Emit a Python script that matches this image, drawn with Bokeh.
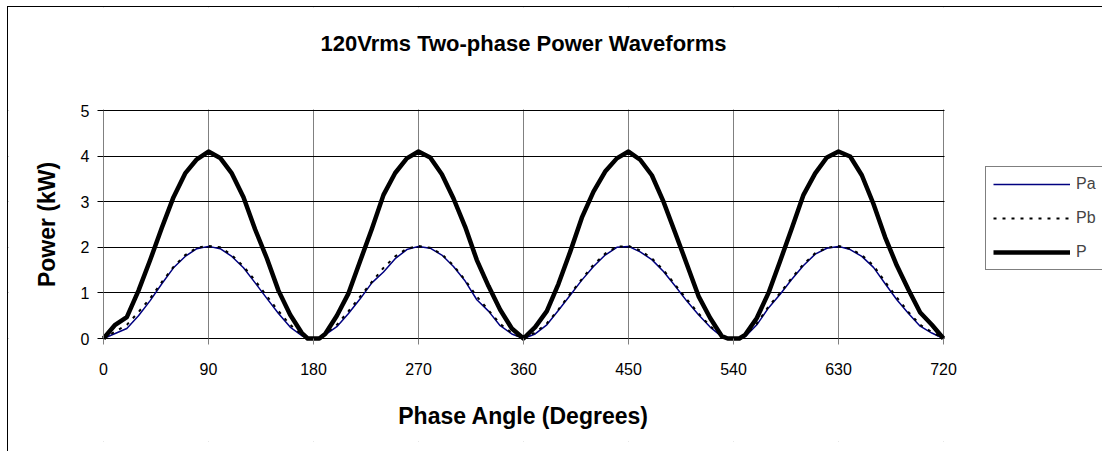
import math
from bokeh.plotting import figure
from bokeh.models import (Range1d, FixedTicker, Legend, LegendItem, ColumnDataSource,
                          Label, BoxAnnotation)
from bokeh.embed import file_html
from bokeh.resources import INLINE

# ---- data ----
angle = [0, 10, 20, 30, 40, 50, 60, 70, 80, 90,
         100, 110, 120, 130, 140, 150, 160, 170, 175, 180, 185,
         190, 200, 210, 220, 230, 240, 250, 260, 270,
         280, 290, 300, 310, 320, 330, 340, 350, 360,
         370, 380, 390, 400, 410, 420, 430, 440, 450,
         460, 470, 480, 490, 500, 510, 520, 530, 535, 540, 545,
         550, 560, 570, 580, 590, 600, 610, 620, 630,
         640, 650, 660, 670, 680, 690, 700, 710, 720]

pa = [0, 0.11, 0.22, 0.50, 0.83, 1.20, 1.55, 1.80, 1.97, 2.02,
      1.97, 1.80, 1.55, 1.22, 0.88, 0.55, 0.25, 0.06, 0.02, 0, 0.02,
      0.08, 0.26, 0.55, 0.87, 1.22, 1.46, 1.75, 1.95, 2.02,
      1.98, 1.83, 1.58, 1.26, 0.85, 0.60, 0.28, 0.10, 0,
      0.10, 0.30, 0.62, 0.95, 1.28, 1.58, 1.83, 2.00, 2.02,
      1.90, 1.73, 1.47, 1.15, 0.82, 0.52, 0.25, 0.04, 0.01, 0, 0.01,
      0.04, 0.30, 0.67, 0.97, 1.30, 1.60, 1.85, 1.98, 2.02,
      1.95, 1.80, 1.56, 1.20, 0.85, 0.55, 0.27, 0.12, 0]

pb = [0, 0.15, 0.30, 0.58, 0.88, 1.24, 1.57, 1.83, 1.99, 2.03,
      2.00, 1.83, 1.58, 1.27, 0.93, 0.60, 0.30, 0.08, 0.02, 0, 0.03,
      0.10, 0.30, 0.60, 0.92, 1.24, 1.55, 1.80, 1.97, 2.03,
      1.99, 1.85, 1.60, 1.28, 0.92, 0.62, 0.32, 0.12, 0,
      0.13, 0.33, 0.64, 0.98, 1.30, 1.62, 1.86, 2.01, 2.03,
      1.93, 1.76, 1.50, 1.18, 0.86, 0.55, 0.27, 0.06, 0.01, 0, 0.02,
      0.06, 0.33, 0.70, 1.00, 1.33, 1.63, 1.87, 1.99, 2.03,
      1.97, 1.83, 1.60, 1.24, 0.90, 0.58, 0.30, 0.14, 0]

p_total = [0, 0.30, 0.47, 1.05, 1.72, 2.43, 3.10, 3.62, 3.93, 4.10,
           3.96, 3.62, 3.10, 2.39, 1.76, 1.05, 0.52, 0.12, 0, 0, 0,
           0.10, 0.50, 0.99, 1.70, 2.40, 3.15, 3.63, 3.95, 4.10,
           3.97, 3.60, 3.07, 2.45, 1.72, 1.15, 0.63, 0.22, 0,
           0.25, 0.60, 1.20, 1.90, 2.65, 3.22, 3.66, 3.95, 4.10,
           3.92, 3.58, 3.00, 2.32, 1.63, 0.93, 0.45, 0.05, 0, 0, 0,
           0.08, 0.45, 1.00, 1.70, 2.42, 3.15, 3.62, 3.97, 4.10,
           3.99, 3.58, 2.95, 2.22, 1.60, 1.07, 0.57, 0.30, 0]

x_ticks = [0, 90, 180, 270, 360, 450, 540, 630, 720]
y_ticks = [0, 1, 2, 3, 4, 5]
series_names = ["Pa", "Pb", "P"]

title_text = "120Vrms Two-phase Power Waveforms"
x_label = "Phase Angle (Degrees)"
y_label = "Power (kW)"

FONT = "Liberation Sans"

# ---- layout constants (pixels) ----
W, H = 1095, 445
B_LEFT, B_RIGHT, B_TOP, B_BOTTOM = 0, 1, 0, 11
PLOT_W, PLOT_H = 840, 228          # size of the gridded plot area
ZERO_FROM_TOP = 331                # x axis, px below the frame top
ZERO_FROM_LEFT = 95                # y axis, px right of the frame left
FRAME_W = W - B_LEFT - B_RIGHT
FRAME_H = H - B_TOP - B_BOTTOM
X_MAX, Y_MAX = x_ticks[-1], y_ticks[-1]
x_per_px = X_MAX / PLOT_W
y_per_px = Y_MAX / PLOT_H
TITLE_ABOVE_AXIS = 295             # title centre, px above the x axis
XLABEL_BELOW_AXIS = 77             # x-axis title centre, px below the x axis
YLABEL_LEFT_OF_AXIS = 57           # y-axis title centre, px left of the y axis
LEGEND_X, LEGEND_BOTTOM = 977, 171 # legend left / bottom edge within the frame

src = ColumnDataSource(dict(angle=angle, pa=pa, pb=pb, p=p_total))

p = figure(width=W, height=H, output_backend="svg", toolbar_location=None,
           x_range=Range1d(-ZERO_FROM_LEFT * x_per_px, (FRAME_W - ZERO_FROM_LEFT) * x_per_px),
           y_range=Range1d(-(FRAME_H - ZERO_FROM_TOP) * y_per_px, ZERO_FROM_TOP * y_per_px),
           min_border_left=B_LEFT, min_border_right=B_RIGHT, min_border_top=B_TOP,
           min_border_bottom=B_BOTTOM)
p.styles = {"border-left": "1px solid black", "border-top": "1px solid black",
            "margin-left": "7px", "margin-top": "6px"}
p.background_fill_color = "white"
p.border_fill_color = "white"
p.outline_line_color = None

# axes (drawn inside the frame, at the data origin)
p.xaxis.ticker = FixedTicker(ticks=x_ticks)
p.yaxis.ticker = FixedTicker(ticks=y_ticks)
p.xaxis.bounds = (0, X_MAX)
p.yaxis.bounds = (0, Y_MAX)
p.xaxis.fixed_location = 0
p.yaxis.fixed_location = 0
for ax in (p.xaxis, p.yaxis):
    ax.major_label_text_font = FONT
    ax.major_label_text_font_size = "16px"
    ax.major_label_text_color = "black"
    ax.major_tick_in = 0
    ax.major_tick_out = 6
    ax.minor_tick_in = 0
    ax.minor_tick_out = 0
p.xaxis.axis_line_color = "black"
p.xaxis.major_tick_line_color = "#808080"
p.yaxis.axis_line_color = "#808080"
p.yaxis.major_tick_line_color = "black"
p.xaxis.major_label_standoff = 18
p.yaxis.major_label_standoff = 8

p.xgrid.grid_line_color = "#808080"
p.xgrid.grid_line_width = 1
p.ygrid.grid_line_color = "black"
p.ygrid.grid_line_width = 1

# white masks so the grid stays inside the plot area
mask = dict(fill_color="white", fill_alpha=1, line_alpha=0, level="underlay")
p.add_layout(BoxAnnotation(left=X_MAX + 1.0 * x_per_px, **mask))
p.add_layout(BoxAnnotation(right=-1.0 * x_per_px, **mask))
p.add_layout(BoxAnnotation(bottom=Y_MAX + 1.0 * y_per_px, **mask))
p.add_layout(BoxAnnotation(top=-1.0 * y_per_px, **mask))

r_pa = p.line("angle", "pa", source=src, line_color="#000080", line_width=1.5)
r_pb = p.line("angle", "pb", source=src, line_color="black", line_width=2,
              line_dash="3 6")
r_p = p.line("angle", "p", source=src, line_color="black", line_width=4.5,
             line_join="round")

label_style = dict(text_align="center", text_baseline="middle", text_font=FONT,
                   text_font_style="bold", text_color="black")
p.add_layout(Label(x=X_MAX / 2, y=TITLE_ABOVE_AXIS * y_per_px, text=title_text,
                   text_font_size="22px", **label_style))
p.add_layout(Label(x=X_MAX / 2, y=-XLABEL_BELOW_AXIS * y_per_px, text=x_label,
                   text_font_size="23px", **label_style))
p.add_layout(Label(x=-YLABEL_LEFT_OF_AXIS * x_per_px, y=Y_MAX / 2, text=y_label,
                   angle=math.pi / 2, text_font_size="23px", **label_style))

legend = Legend(items=[LegendItem(label=series_names[0], renderers=[r_pa]),
                       LegendItem(label=series_names[1], renderers=[r_pb]),
                       LegendItem(label=series_names[2], renderers=[r_p])],
                location=(LEGEND_X, LEGEND_BOTTOM), orientation="vertical")
legend.border_line_color = "black"
legend.border_line_width = 1
legend.background_fill_color = "white"
legend.background_fill_alpha = 1
legend.padding = 7
legend.spacing = 14
legend.margin = 0
legend.glyph_width = 77
legend.glyph_height = 20
legend.label_standoff = 6
legend.label_text_font = FONT
legend.label_text_font_size = "16px"
legend.label_height = 20
p.add_layout(legend)

open("out.html", "w").write(file_html(p, INLINE))
